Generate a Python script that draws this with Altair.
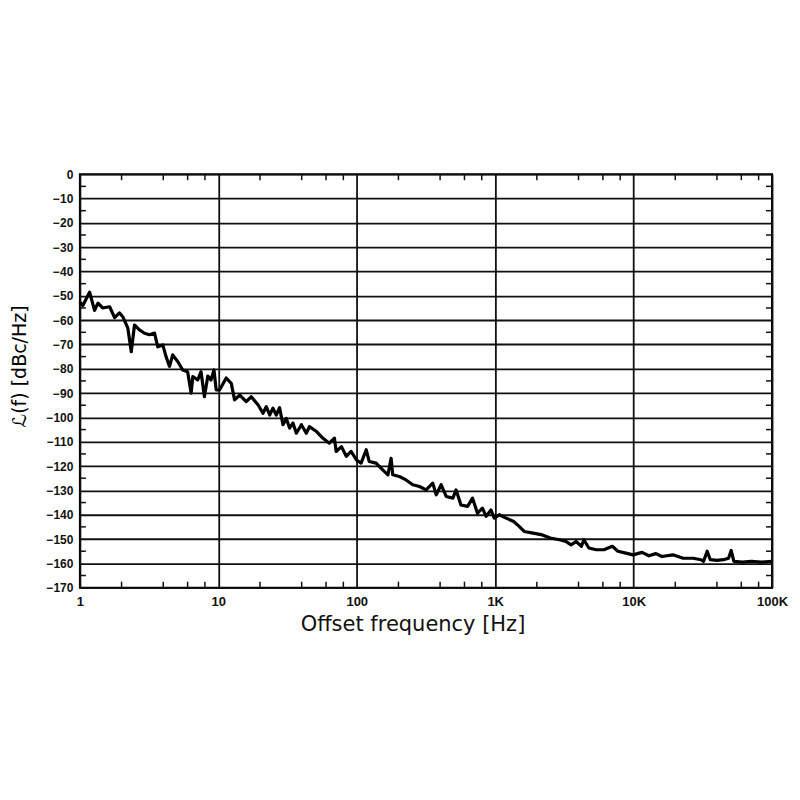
import altair as alt
import pandas as pd

# Offset frequency [Hz] and phase noise L(f) [dBc/Hz]
freq = [1.0, 1.05, 1.175, 1.276, 1.35, 1.46, 1.64, 1.78, 1.93, 2.04, 2.22, 2.35, 2.48, 2.69,
        2.93, 3.18, 3.46, 3.65, 3.97, 4.19, 4.44, 4.68, 5.09, 5.53, 6.0, 6.36, 6.54, 7.1,
        7.5, 7.93, 8.4, 8.85, 9.3, 9.65, 10.2, 11.4, 12.4, 13.1, 14.3, 15.9, 17.3, 19.4,
        21.0, 22.2, 23.5, 24.8, 26.2, 27.7, 29.3, 31.0, 32.7, 34.6, 36.6, 39.8, 43.2, 45.5,
        51.2, 57.1, 63.3, 69.0, 71.0, 77.5, 84.0, 91.0, 99.5, 107.5, 117, 123, 138, 154,
        168, 177, 182, 203, 227, 254, 284, 317, 354, 375, 407, 443, 495, 522, 566, 632,
        686, 745, 809, 860, 931, 985, 1070, 1200, 1360, 1490, 1620, 1880, 2190, 2500,
        2920, 3240, 3530, 3840, 4200, 4370, 4750, 5360, 6100, 7020, 7700, 8800, 9900,
        11500, 12900, 14500, 16000, 19200, 22800, 26900, 30700, 32000, 34000, 35800,
        40000, 44600, 48500, 50700, 53000, 61000, 71000, 84000, 100000]
noise = [-52.5, -54.0, -48.5, -56.0, -53.0, -55.0, -54.5, -59.0, -57.0, -58.6, -63.3, -73.0,
         -62.0, -64.0, -65.4, -66.0, -65.3, -71.0, -70.2, -75.0, -79.0, -74.3, -77.0, -80.5,
         -81.2, -90.0, -83.2, -84.6, -81.2, -91.5, -83.0, -84.6, -80.5, -88.7, -88.7, -83.8,
         -86.0, -92.8, -90.8, -93.5, -91.5, -94.9, -98.3, -95.6, -99.0, -96.2, -99.0, -96.0,
         -103.0, -100.4, -104.4, -102.3, -106.5, -103.0, -106.5, -103.8, -105.8, -108.6,
         -110.6, -108.5, -114.0, -112.0, -116.0, -114.0, -117.5, -118.8, -113.3, -118.1,
         -118.8, -121.6, -123.6, -116.8, -123.6, -124.3, -125.7, -127.7, -128.4, -129.8,
         -127.0, -131.8, -127.7, -132.5, -133.2, -129.8, -136.0, -136.6, -133.2, -139.4,
         -137.3, -140.7, -138.0, -141.4, -140.0, -141.4, -142.8, -144.8, -146.9, -147.6,
         -148.3, -149.6, -150.3, -151.0, -152.4, -151.0, -153.0, -150.3, -153.7, -154.4,
         -154.4, -153.0, -155.0, -155.8, -156.5, -155.5, -156.9, -156.0, -157.2, -156.5,
         -157.9, -157.9, -158.5, -159.2, -155.0, -158.5, -158.8, -158.5, -157.9, -154.7,
         -159.2, -159.5, -159.2, -159.5, -159.2]

x_major = [1, 10, 100, 1000, 10000, 100000]
x_minor = [m * d for d in [1, 10, 100, 1000, 10000] for m in [2, 4, 6, 8]]
y_major = list(range(-170, 1, 10))
y_minor = list(range(-165, 0, 10))

W, H = 693, 414
FONT = "DejaVu Sans"
LFONT = "Liberation Sans"

df = pd.DataFrame({"f": freq, "L": noise})
xmin = pd.DataFrame({"f": x_minor})
ymin = pd.DataFrame({"L": y_minor})

xscale = alt.Scale(type="log", domain=[1, 100000], nice=False)
yscale = alt.Scale(domain=[-170, 0], nice=False)

x_axis = alt.Axis(
    values=x_major,
    labelExpr="datum.value >= 1000 ? format(datum.value / 1000, 'd') + 'K' : format(datum.value, 'd')",
    grid=True, gridColor="#111", gridWidth=1.8, gridOpacity=1,
    ticks=False, domain=False, labelFont=LFONT, labelFontSize=13, labelColor="#111",
    labelFontWeight="bold", labelFlush=False, labelOverlap=False,
    labelPadding=8, title="Offset frequency [Hz]", titleFont=FONT, titleFontSize=21,
    titleFontWeight="normal", titleColor="#111",
    titleX=333, titleY=37, titleBaseline="middle", titleAlign="center",
)
y_axis = alt.Axis(
    values=y_major, grid=True, gridColor="#111", gridWidth=1.8, gridOpacity=1,
    ticks=False, domain=False, labelFont=LFONT, labelFontSize=12, labelColor="#111",
    labelFontWeight="bold", labelPadding=7, labelFlush=False, labelOverlap=False,
    title="ℒ(f)  [dBc/Hz]", titleFont=FONT, titleFontSize=19, titleFontWeight="normal",
    titleColor="#000", titleX=-60, titleY=192, titleBaseline="middle",
    titleAlign="center", titleAngle=-90,
)

line = alt.Chart(df).mark_line(color="#000", strokeWidth=3.2, strokeJoin="round").encode(
    x=alt.X("f:Q", scale=xscale, axis=x_axis),
    y=alt.Y("L:Q", scale=yscale, axis=y_axis),
)

tick_bottom = alt.Chart(xmin).mark_rule(color="#111", strokeWidth=1.5).encode(
    x=alt.X("f:Q", scale=xscale, axis=x_axis), y=alt.value(H), y2=alt.value(H - 6))
tick_top = alt.Chart(xmin).mark_rule(color="#111", strokeWidth=1.5).encode(
    x=alt.X("f:Q", scale=xscale, axis=x_axis), y=alt.value(0), y2=alt.value(6))
tick_left = alt.Chart(ymin).mark_rule(color="#111", strokeWidth=1.5).encode(
    y=alt.Y("L:Q", scale=yscale, axis=y_axis), x=alt.value(0), x2=alt.value(6))
tick_right = alt.Chart(ymin).mark_rule(color="#111", strokeWidth=1.5).encode(
    y=alt.Y("L:Q", scale=yscale, axis=y_axis), x=alt.value(W - 6), x2=alt.value(W))

chart = alt.layer(line, tick_bottom, tick_top, tick_left, tick_right).properties(
    width=W, height=H,
    autosize=alt.AutoSizeParams(type="none"),
    padding={"left": 72, "top": 166, "right": 20, "bottom": 60},
).configure(background="white").configure_view(stroke="#000", strokeWidth=2)

chart.save("out.html", embed_options={"renderer": "svg", "actions": False})
